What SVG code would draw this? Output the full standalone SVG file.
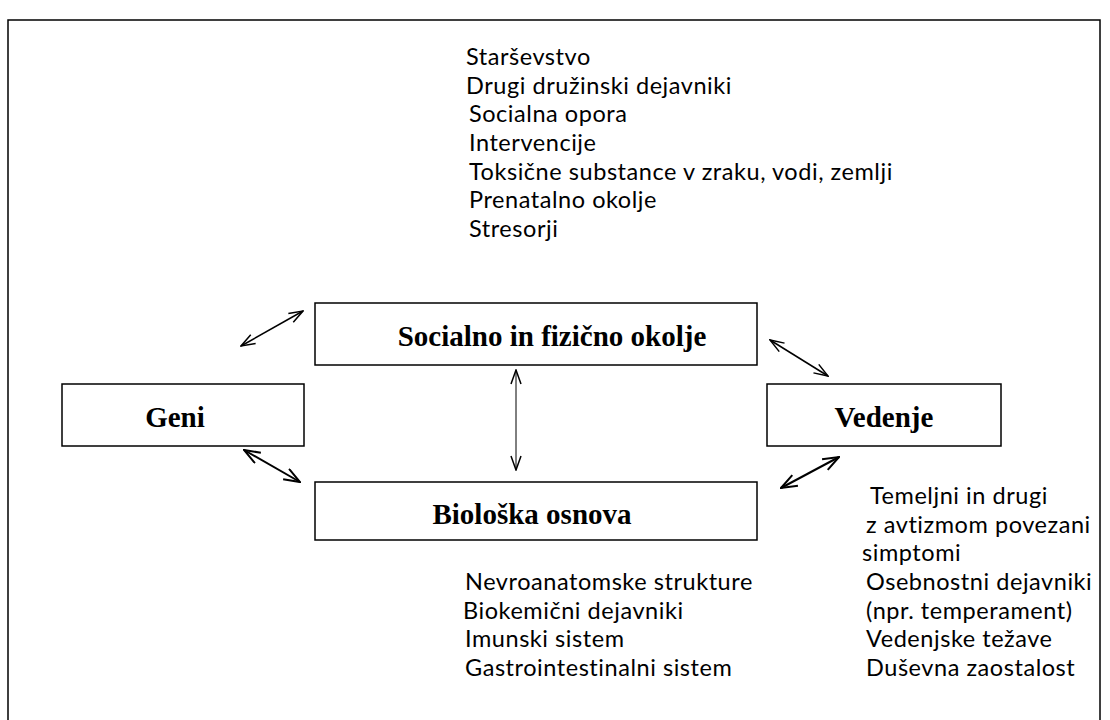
<svg xmlns="http://www.w3.org/2000/svg" width="1110" height="720" viewBox="0 0 1110 720">
<defs>
<style>
.box{fill:#fff;stroke:#000;stroke-width:1.5}
.lbl{font-family:"Liberation Serif","Times New Roman",serif;font-weight:bold;font-size:29px;fill:#000;text-anchor:middle;dominant-baseline:central}
.lst{font-family:Lato,"Liberation Sans",sans-serif;font-size:23.5px;letter-spacing:0.55px;fill:#000}
.con{stroke:#000;fill:none}
</style>
<marker id="ah" viewBox="0 0 16 12" refX="15" refY="6" markerWidth="16" markerHeight="12" markerUnits="userSpaceOnUse" orient="auto-start-reverse">
<path d="M1,1 L15,6 L1,11" fill="none" stroke="#000" stroke-width="1.5"/>
</marker>
<marker id="ah2" viewBox="0 0 18 14" refX="17" refY="7" markerWidth="18" markerHeight="14" markerUnits="userSpaceOnUse" orient="auto-start-reverse">
<path d="M1,1 L17,7 L1,13" fill="none" stroke="#000" stroke-width="2"/>
</marker>
</defs>
<rect x="8" y="20" width="1092" height="720" fill="none" stroke="#000" stroke-width="1.5"/>
<g id="env-list" class="lst">
<text x="466" y="65">Starševstvo</text>
<text x="466" y="94">Drugi družinski dejavniki</text>
<text x="469" y="122">Socialna opora</text>
<text x="469" y="151">Intervencije</text>
<text x="469" y="180">Toksične substance v zraku, vodi, zemlji</text>
<text x="469" y="208">Prenatalno okolje</text>
<text x="469" y="237">Stresorji</text>
</g>
<g id="bio-list" class="lst">
<text x="465" y="590">Nevroanatomske strukture</text>
<text x="463" y="619">Biokemični dejavniki</text>
<text x="465" y="647">Imunski sistem</text>
<text x="465" y="676">Gastrointestinalni sistem</text>
</g>
<g id="beh-list" class="lst">
<text x="870" y="504">Temeljni in drugi</text>
<text x="866" y="533">z avtizmom povezani</text>
<text x="862" y="561">simptomi</text>
<text x="866" y="590">Osebnostni dejavniki</text>
<text x="866" y="619">(npr. temperament)</text>
<text x="866" y="647">Vedenjske težave</text>
<text x="866" y="676">Duševna zaostalost</text>
</g>
<g id="connectors">
<line class="con" x1="241" y1="346" x2="303" y2="311" stroke-width="1.5" marker-start="url(#ah)" marker-end="url(#ah)"/>
<line class="con" x1="770" y1="340" x2="828" y2="376" stroke-width="1.5" marker-start="url(#ah)" marker-end="url(#ah)"/>
<line class="con" x1="244" y1="450" x2="300" y2="482" stroke-width="2" marker-start="url(#ah2)" marker-end="url(#ah2)"/>
<line class="con" x1="781" y1="488" x2="839" y2="457" stroke-width="2" marker-start="url(#ah2)" marker-end="url(#ah2)"/>
<line class="con" x1="516" y1="370" x2="516" y2="470" stroke-width="1" marker-start="url(#ah)" marker-end="url(#ah)"/>
</g>
<g id="env">
<rect class="box" x="315" y="303" width="442" height="62"/>
<text class="lbl" x="552" y="336">Socialno in fizično okolje</text>
</g>
<g id="geni">
<rect class="box" x="62" y="384" width="242" height="62"/>
<text class="lbl" x="175" y="417">Geni</text>
</g>
<g id="vedenje">
<rect class="box" x="767" y="384" width="234" height="62"/>
<text class="lbl" x="884" y="417">Vedenje</text>
</g>
<g id="bio">
<rect class="box" x="315" y="482" width="442" height="58"/>
<text class="lbl" x="532" y="514">Biološka osnova</text>
</g>
</svg>
